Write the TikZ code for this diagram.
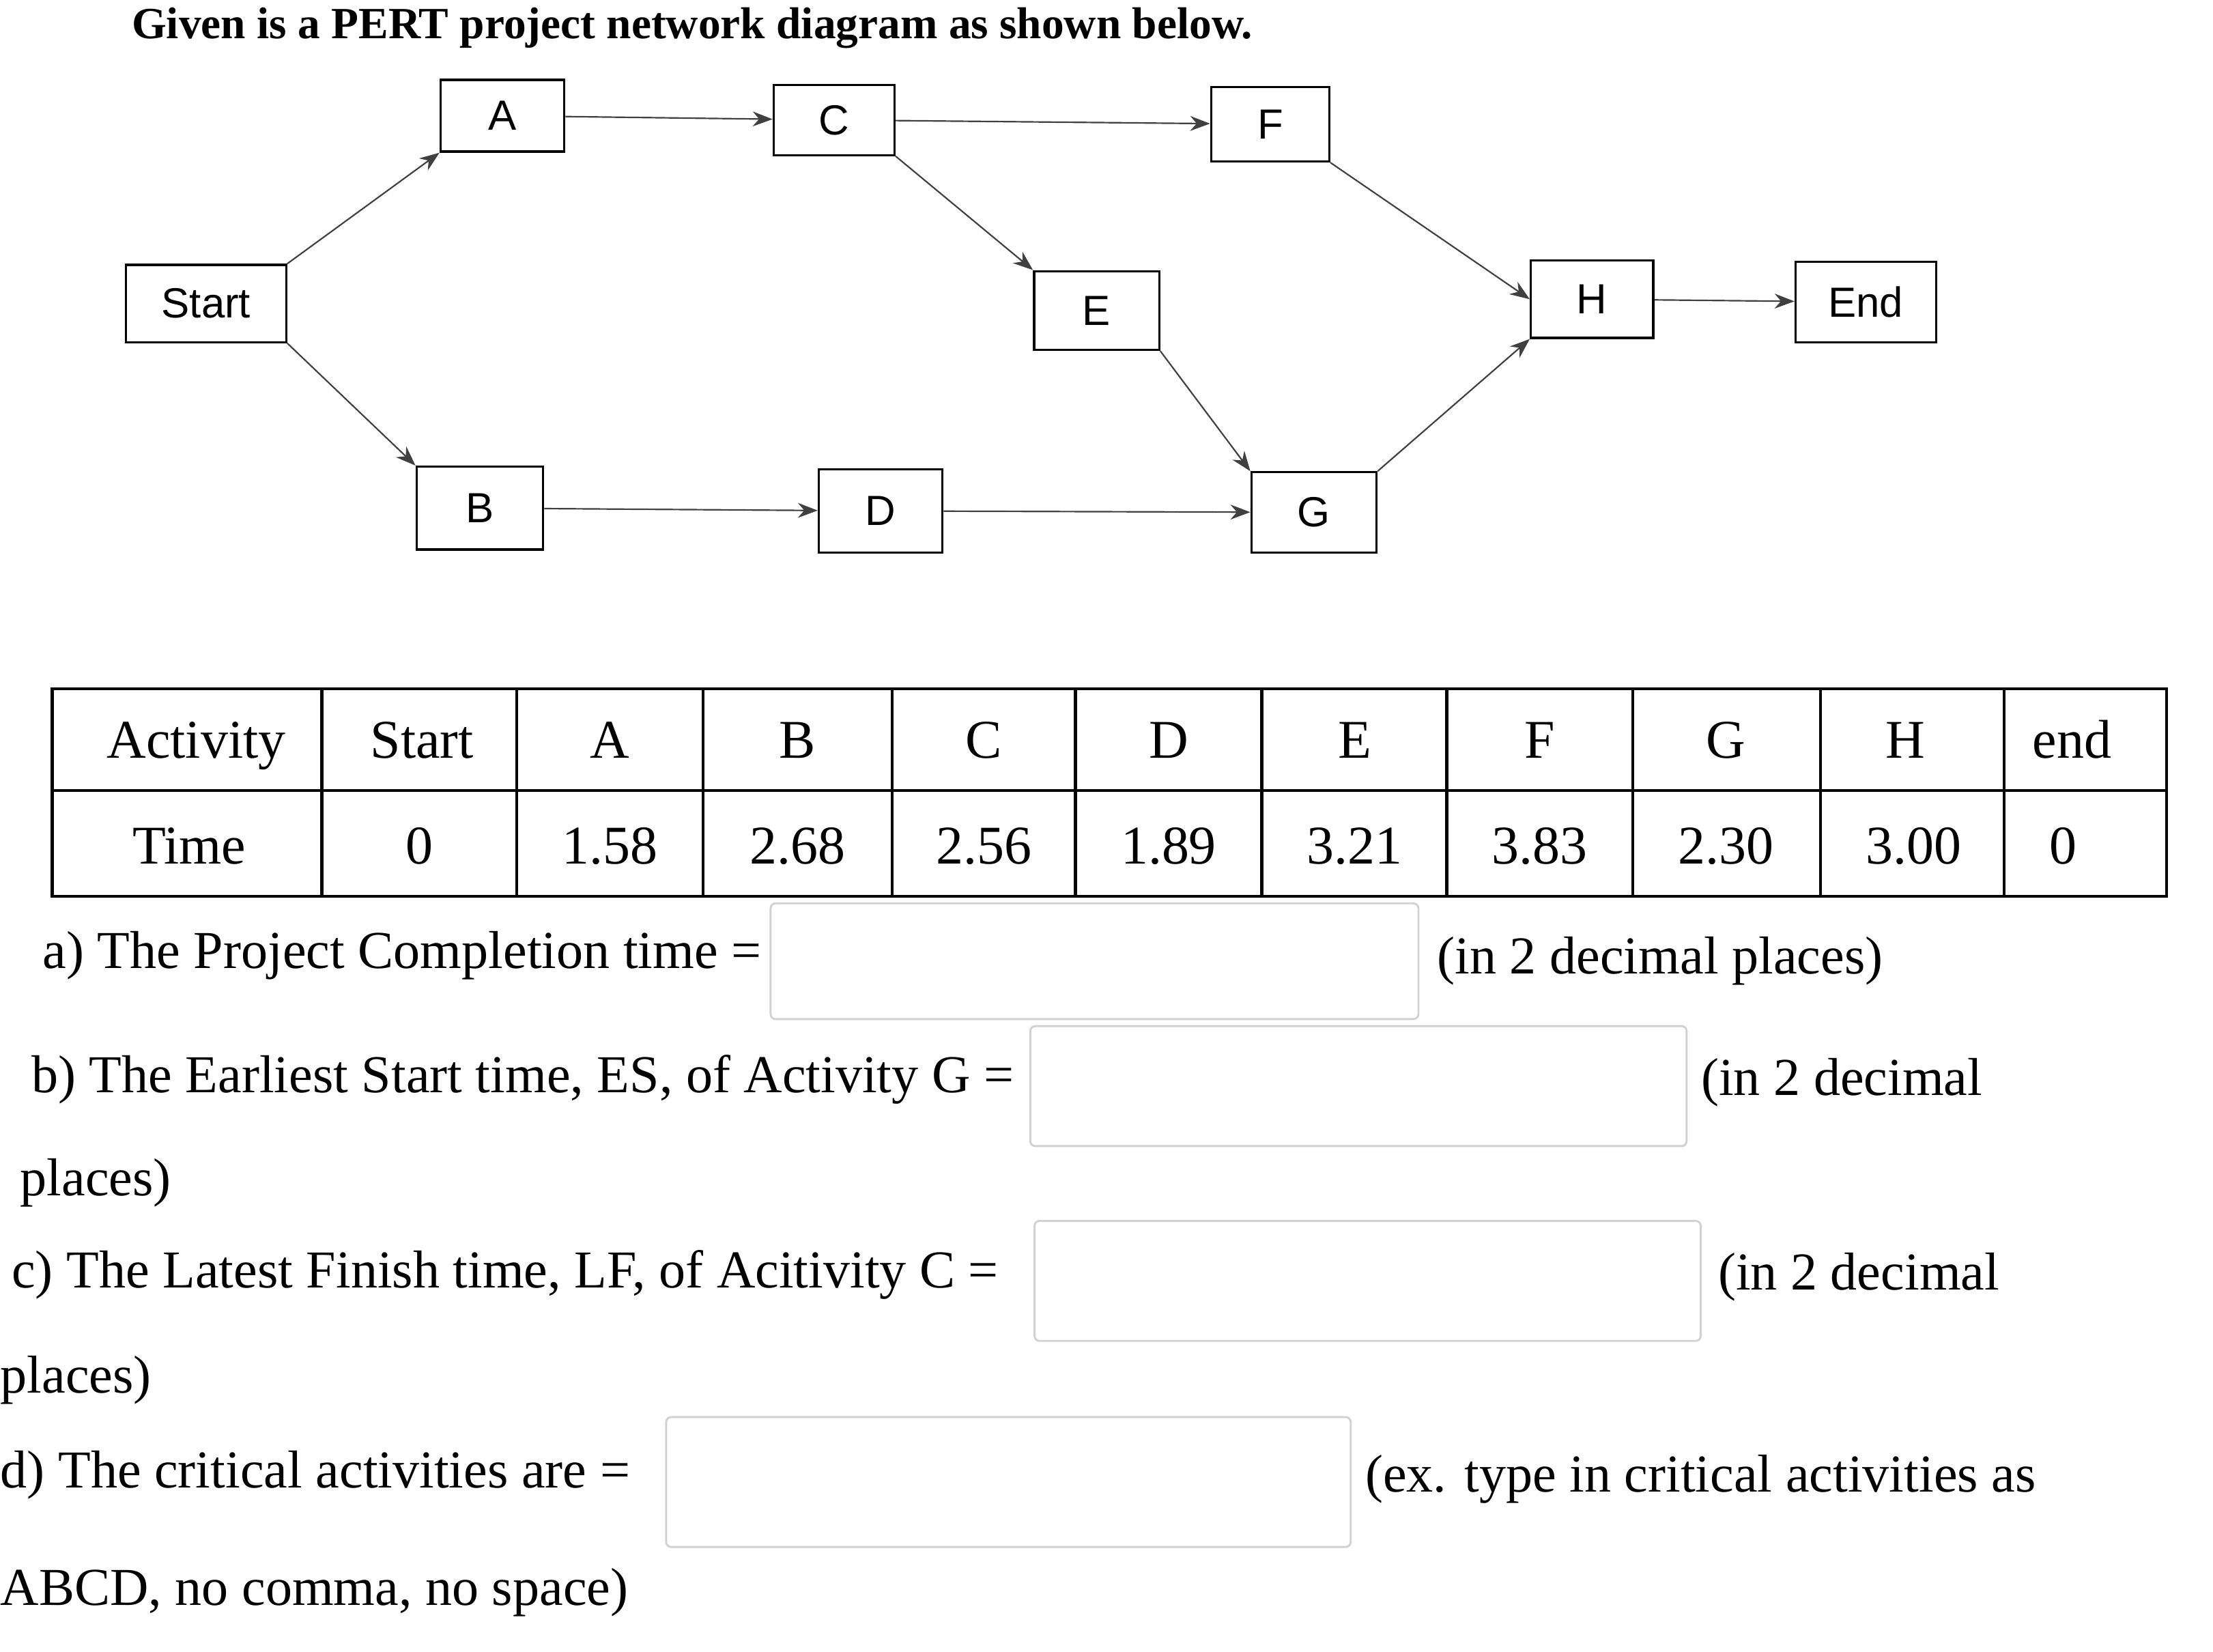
\documentclass[tikz,border=0pt]{standalone}
\usepackage{fontspec}
\setmainfont{Liberation Serif}
\newfontfamily\boxfont{Liberation Sans}
\usetikzlibrary{arrows.meta}
\begin{document}
\begin{tikzpicture}[x=0.02cm,y=-0.02cm,
  act/.style={draw,line width=0.9pt,inner sep=0pt,font=\boxfont\fontsize{17}{20}\selectfont},
  arr/.style={draw=black!75,line width=0.6pt,-{Stealth[length=8pt,width=6pt]}},
  qt/.style={anchor=west,inner sep=0pt,font=\fontsize{21.5}{26}\selectfont},
  inbox/.style={draw=black!18,line width=0.8pt,rounded corners=2pt},
  tcell/.style={font=\fontsize{22}{27}\selectfont}]
\useasboundingbox (0,0) rectangle (1568,1170);
\node[anchor=west,inner sep=0pt,font=\bfseries\fontsize{18}{22}\selectfont] (title) at (93,20) {Given is a PERT project network diagram as shown below.};
% activity nodes
\node[act,minimum width=88pt*0.567,minimum height=51pt*0.567] (A) at (356,82) {A};
\node[act,minimum width=86pt*0.567,minimum height=50pt*0.567] (C) at (591,85) {C};
\node[act,minimum width=84pt*0.567,minimum height=53pt*0.567] (F) at (900,88) {F};
\node[act,minimum width=114pt*0.567,minimum height=55pt*0.567] (S) at (146,215) {Start};
\node[act,minimum width=89pt*0.567,minimum height=56pt*0.567] (E) at (777,220) {E};
\node[act,minimum width=87pt*0.567,minimum height=55pt*0.567] (H) at (1128,212) {H};
\node[act,minimum width=100pt*0.567,minimum height=57pt*0.567] (End) at (1322,214) {End};
\node[act,minimum width=90pt*0.567,minimum height=59pt*0.567] (B) at (340,360) {B};
\node[act,minimum width=88pt*0.567,minimum height=59pt*0.567] (D) at (624,362) {D};
\node[act,minimum width=89pt*0.567,minimum height=57pt*0.567] (G) at (931,363) {G};
% connectors
\draw[arr] (S.north east) -- (A.south west);
\draw[arr] (S.south east) -- (B.north west);
\draw[arr] (A) -- (C);
\draw[arr] (C) -- (F);
\draw[arr] (C.south east) -- (E.north west);
\draw[arr] (B) -- (D);
\draw[arr] (D) -- (G);
\draw[arr] (E.south east) -- (G.north west);
\draw[arr] (F.south east) -- (H.west);
\draw[arr] (G.north east) -- (H.south west);
\draw[arr] (H) -- (End);
% table
\draw[line width=1.2pt] (37,488) rectangle (1535,635);
\draw[line width=1.2pt] (37,560) -- (1535,560);
\foreach \x in {228,366,498,632,762,894,1025,1157,1290,1420}
  \draw[line width=1.2pt] (\x,488) -- (\x,635);
\foreach \t/\x in {Activity/139,Start/299,A/432,B/565,C/697,D/828,E/960,F/1091,G/1223,H/1350,end/1468}
  \node[tcell,anchor=base] (h\t) at (\x,537) {\t};
\foreach \t/\x/\n in {Time/134/t0,0/297/t1,1.58/432/t2,2.68/565/t3,2.56/697/t4,1.89/828/t5,3.21/960/t6,3.83/1091/t7,2.30/1223/t8,3.00/1356/t9,0/1462/t10}
  \node[tcell,anchor=base] (\n) at (\x,612) {\t};
% questions
\node[qt] (qa) at (30,677) {a) The Project Completion time =};
\draw[inbox] (546,640) rectangle (1005,722);
\node[qt] (qa2) at (1018,681) {(in 2 decimal places)};
\node[qt] (qb) at (22,765) {b) The Earliest Start time, ES, of Activity G =};
\draw[inbox] (730,727) rectangle (1195,812);
\node[qt] (qb2) at (1205,767) {(in 2 decimal};
\node[qt] (qb3) at (14,838) {places)};
\node[qt] (qc) at (8,903) {c) The Latest Finish time, LF, of Acitivity C =};
\draw[inbox] (733,865) rectangle (1205,950);
\node[qt] (qc2) at (1217,905) {(in 2 decimal};
\node[qt] (qc3) at (0,978) {places)};
\node[qt] (qd) at (0,1045) {d) The critical activities are =};
\draw[inbox] (472,1004) rectangle (957,1096);
\node[qt] (qd2) at (967,1048) {(ex. type in critical activities as};
\node[qt] (qd3) at (0,1128) {ABCD, no comma, no space)};
\end{tikzpicture}
\end{document}
